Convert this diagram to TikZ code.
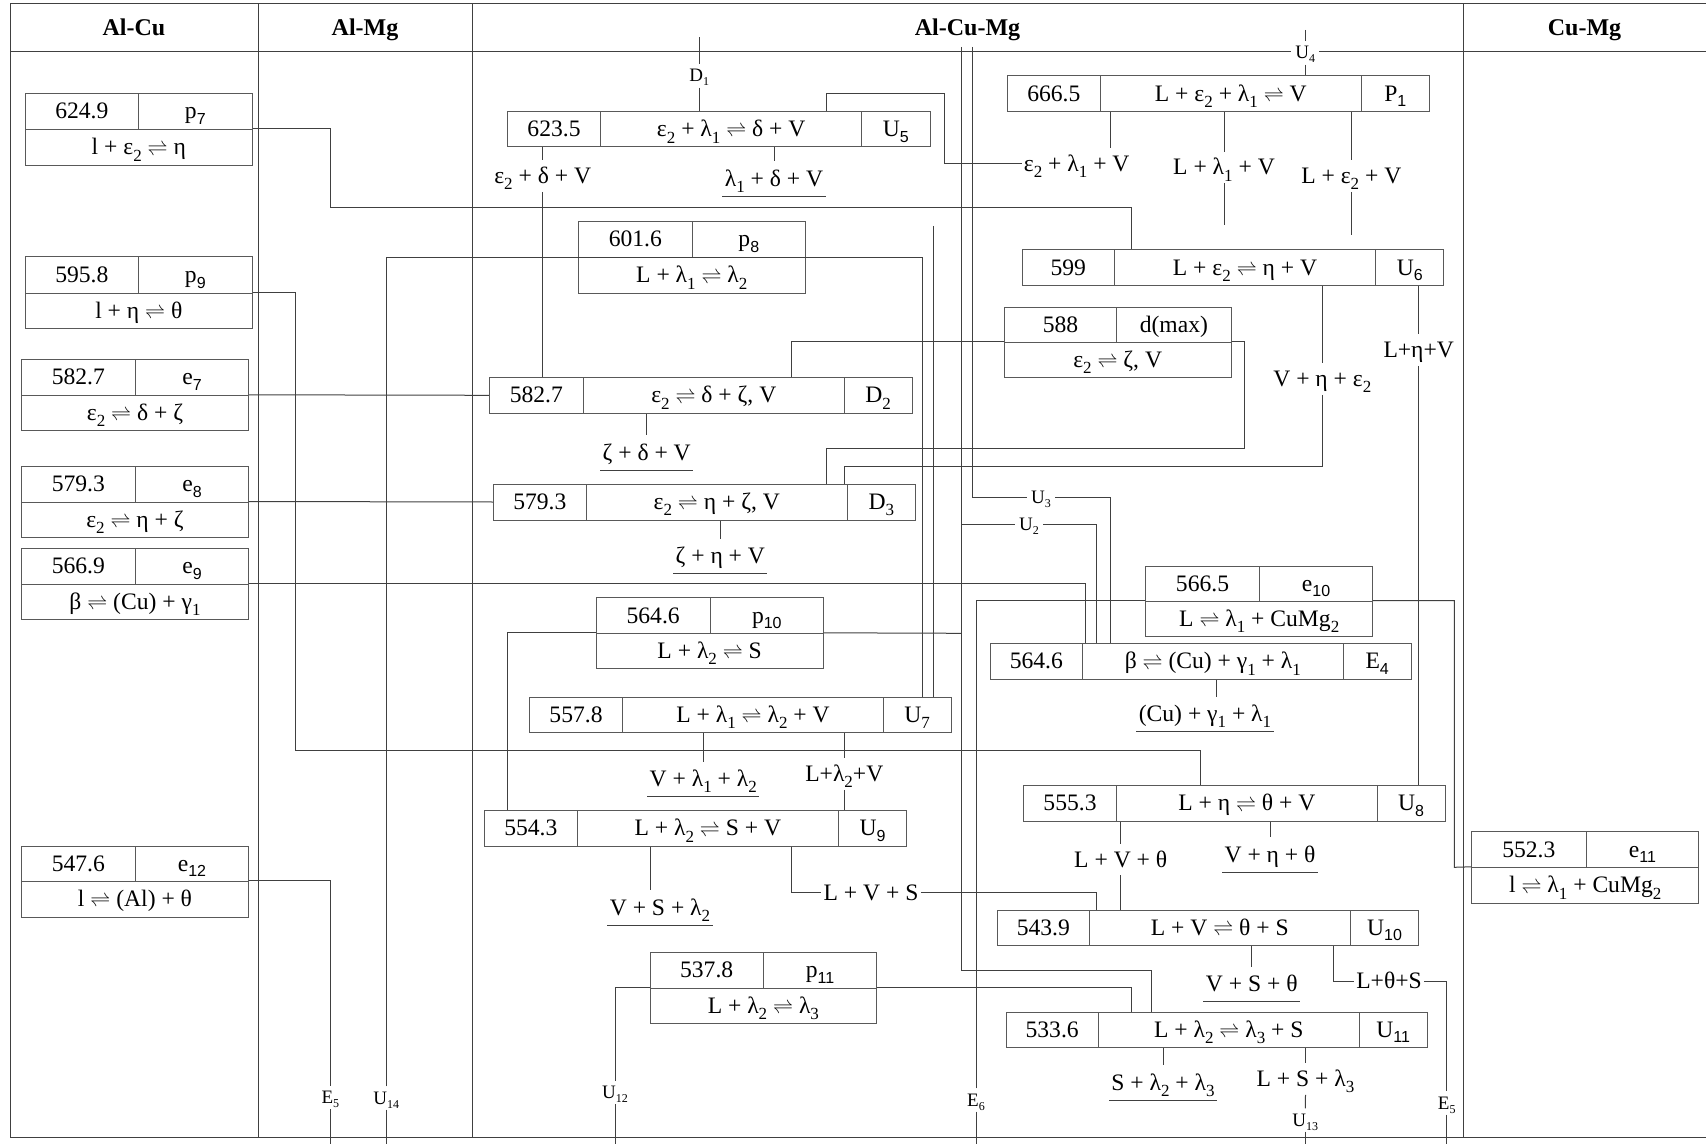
\documentclass[tikz,border=0pt]{standalone}
\usepackage{fontspec}
\setmainfont{Liberation Serif}
\setsansfont{Liberation Sans}
\newcommand\subr[1]{\raisebox{-3.2pt}{\fontsize{8.5pt}{8.5pt}\selectfont #1}}
\newcommand\subs[1]{\raisebox{-2.8pt}{\fontsize{8pt}{8pt}\selectfont\sffamily #1}}
\newcommand\subt[1]{\raisebox{-2pt}{\fontsize{6pt}{6pt}\selectfont #1}}
\newcommand\rl{\scalebox{0.85}{$\rightleftharpoons$}}
\newcommand\mycell[6]{\node[cellbox,minimum width={(#4-#2)*0.5pt},minimum height={(#5-#3)*0.5pt}] (#1) at ({(#2+#4)/2},{(#3+#5)/2}) {#6};}
\tikzset{
  ln/.style={draw=black!75,line width=0.5pt},
  cellbox/.style={draw=black!65,line width=0.5pt,inner sep=0pt,font=\fontsize{11.8pt}{12pt}\selectfont,text height=9pt,text depth=1.5pt},
  lab/.style={inner xsep=1pt,inner ysep=2.5pt,font=\fontsize{11.8pt}{12pt}\selectfont,text height=9pt,text depth=1.5pt},
  ul/.style={lab,inner ysep=3.3pt,append after command={(\tikzlastnode.south west) edge[ln] (\tikzlastnode.south east)}},
  sm/.style={inner sep=2pt,font=\fontsize{9.5pt}{10pt}\selectfont,text height=6.6pt,text depth=0.6pt},
  hdr/.style={font=\bfseries\fontsize{12pt}{13pt}\selectfont,text height=9pt,text depth=1.5pt}
}
\begin{document}
\begin{tikzpicture}[x=0.5pt,y=-0.5pt]
\useasboundingbox (0,0) rectangle (1706,1144);
% frame
\draw[ln] (10,1137) -- (10,4) -- (1706,4);
\draw[ln] (10,52) -- (1706,52);
\draw[ln] (10,1137) -- (1706,1137);
\draw[ln] (258,4) -- (258,1137);
\draw[ln] (472.3,4) -- (472.3,1137);
\draw[ln] (1463.3,4) -- (1463.3,1137);
% headers
\node[hdr] (hAC) at (134,28) {Al-Cu};
\node[hdr] (hAM) at (365,28) {Al-Mg};
\node[hdr] (hACM) at (967.5,28) {Al-Cu-Mg};
\node[hdr] (hCM) at (1584.5,28) {Cu-Mg};
% two-row boxes
\mycell{p7-t}{25.3}{93.7}{138.3}{129.3}{624.9}
\mycell{p7-l}{138.3}{93.7}{252.3}{129.3}{p\subs{7}}
\mycell{p7-r}{25.3}{129.3}{252.3}{165.3}{l + ε\subr{2} \rl{} η}
\mycell{p9-t}{25.3}{257}{138.3}{293.3}{595.8}
\mycell{p9-l}{138.3}{257}{252.3}{293.3}{p\subs{9}}
\mycell{p9-r}{25.3}{293.3}{252.3}{328.3}{l + η \rl{} θ}
\mycell{e7-t}{21.3}{359.3}{135.3}{395.3}{582.7}
\mycell{e7-l}{135.3}{359.3}{248.7}{395.3}{e\subs{7}}
\mycell{e7-r}{21.3}{395.3}{248.7}{430.7}{ε\subr{2} \rl{} δ + ζ}
\mycell{e8-t}{21.3}{466.7}{135.3}{502}{579.3}
\mycell{e8-l}{135.3}{466.7}{248.7}{502}{e\subs{8}}
\mycell{e8-r}{21.3}{502}{248.7}{537.3}{ε\subr{2} \rl{} η + ζ}
\mycell{e9-t}{21.3}{548.3}{135.3}{584}{566.9}
\mycell{e9-l}{135.3}{548.3}{248.7}{584}{e\subs{9}}
\mycell{e9-r}{21.3}{584}{248.7}{619.3}{β \rl{} (Cu) + γ\subr{1}}
\mycell{e12-t}{21.3}{846}{135.3}{881.3}{547.6}
\mycell{e12-l}{135.3}{846}{248.7}{881.3}{e\subs{12}}
\mycell{e12-r}{21.3}{881.3}{248.7}{917}{l \rl{} (Al) + θ}
\mycell{p8-t}{578.3}{221.7}{692.3}{257.3}{601.6}
\mycell{p8-l}{692.3}{221.7}{805.3}{257.3}{p\subs{8}}
\mycell{p8-r}{578.3}{257.3}{805.3}{293.3}{L + λ\subr{1} \rl{} λ\subr{2}}
\mycell{d588-t}{1004.3}{307.3}{1116.7}{342.3}{588}
\mycell{d588-l}{1116.7}{307.3}{1231}{342.3}{d(max)}
\mycell{d588-r}{1004.3}{342.3}{1231}{377.3}{ε\subr{2} \rl{} ζ, V}
\mycell{p10-t}{596}{597.7}{710.3}{633.3}{564.6}
\mycell{p10-l}{710.3}{597.7}{823.3}{633.3}{p\subs{10}}
\mycell{p10-r}{596}{633.3}{823.3}{668.3}{L + λ\subr{2} \rl{} S}
\mycell{e10-t}{1145.7}{566}{1259.3}{601}{566.5}
\mycell{e10-l}{1259.3}{566}{1372.7}{601}{e\subs{10}}
\mycell{e10-r}{1145.7}{601}{1372.7}{636.3}{L \rl{} λ\subr{1} + CuMg\subr{2}}
\mycell{p11-t}{650}{952.3}{763.3}{988.3}{537.8}
\mycell{p11-l}{763.3}{952.3}{876.7}{988.3}{p\subs{11}}
\mycell{p11-r}{650}{988.3}{876.7}{1023.3}{L + λ\subr{2} \rl{} λ\subr{3}}
\mycell{e11-t}{1471.7}{831.7}{1586}{867.3}{552.3}
\mycell{e11-l}{1586}{831.7}{1698.7}{867.3}{e\subs{11}}
\mycell{e11-r}{1471.7}{867.3}{1698.7}{903.3}{l \rl{} λ\subr{1} + CuMg\subr{2}}
% one-row boxes
\mycell{U5-t}{507.3}{111.7}{600.7}{146.7}{623.5}
\mycell{U5-r}{600.7}{111.7}{861.7}{146.7}{ε\subr{2} + λ\subr{1} \rl{} δ + V}
\mycell{U5-l}{861.7}{111.7}{930}{146.7}{U\subs{5}}
\mycell{P1-t}{1007.3}{76}{1100.3}{111.3}{666.5}
\mycell{P1-r}{1100.3}{76}{1361.3}{111.3}{L + ε\subr{2} + λ\subr{1} \rl{} V}
\mycell{P1-l}{1361.3}{76}{1429.3}{111.3}{P\subs{1}}
\mycell{U6-t}{1022.3}{250}{1114.3}{285.7}{599}
\mycell{U6-r}{1114.3}{250}{1375.7}{285.7}{L + ε\subr{2} \rl{} η + V}
\mycell{U6-l}{1375.7}{250}{1443.7}{285.7}{U\subs{6}}
\mycell{D2-t}{489.3}{377.3}{583.3}{413.3}{582.7}
\mycell{D2-r}{583.3}{377.3}{844.3}{413.3}{ε\subr{2} \rl{} δ + ζ, V}
\mycell{D2-l}{844.3}{377.3}{912}{413.3}{D\subr{2}}
\mycell{D3-t}{493.3}{484}{586.3}{520}{579.3}
\mycell{D3-r}{586.3}{484}{847.3}{520}{ε\subr{2} \rl{} η + ζ, V}
\mycell{D3-l}{847.3}{484}{915.3}{520}{D\subr{3}}
\mycell{E4-t}{990.3}{643.3}{1082.3}{679.3}{564.6}
\mycell{E4-r}{1082.3}{643.3}{1343.3}{679.3}{β \rl{} (Cu) + γ\subr{1} + λ\subr{1}}
\mycell{E4-l}{1343.3}{643.3}{1411}{679.3}{E\subs{4}}
\mycell{U7-t}{529.3}{697.7}{622.7}{732.3}{557.8}
\mycell{U7-r}{622.7}{697.7}{883.3}{732.3}{L + λ\subr{1} \rl{} λ\subr{2} + V}
\mycell{U7-l}{883.3}{697.7}{951}{732.3}{U\subr{7}}
\mycell{U9-t}{484.3}{810.7}{577.3}{846}{554.3}
\mycell{U9-r}{577.3}{810.7}{838.3}{846}{L + λ\subr{2} \rl{} S + V}
\mycell{U9-l}{838.3}{810.7}{906.7}{846}{U\subs{9}}
\mycell{U8-t}{1023.3}{785.7}{1116.7}{821}{555.3}
\mycell{U8-r}{1116.7}{785.7}{1377}{821}{L + η \rl{} θ + V}
\mycell{U8-l}{1377}{785.7}{1445.3}{821}{U\subs{8}}
\mycell{U10-t}{997.3}{910}{1089.3}{945}{543.9}
\mycell{U10-r}{1089.3}{910}{1350.3}{945}{L + V \rl{} θ + S}
\mycell{U10-l}{1350.3}{910}{1418.7}{945}{U\subs{10}}
\mycell{U11-t}{1006}{1012.3}{1098.3}{1047.3}{533.6}
\mycell{U11-r}{1098.3}{1012.3}{1359.3}{1047.3}{L + λ\subr{2} \rl{} λ\subr{3} + S}
\mycell{U11-l}{1359.3}{1012.3}{1427}{1047.3}{U\subs{11}}
% phase labels
\node[lab] (lEDV) at (542.7,176) {ε\subr{2} + δ + V};
\node[ul] (lLDV) at (774,179) {λ\subr{1} + δ + V};
\node[lab] (lELV) at (1076.7,164) {ε\subr{2} + λ\subr{1} + V};
\node[lab] (lLLV1) at (1224,167.5) {L + λ\subr{1} + V};
\node[lab] (lLEV) at (1351.3,176) {L + ε\subr{2} + V};
\node[lab] (lVHE) at (1322.3,379) {V + η + ε\subr{2}};
\node[lab] (lLHV) at (1418.7,350) {L+η+V};
\node[ul] (lZDV) at (646.7,452.5) {ζ + δ + V};
\node[ul] (lZHV) at (720.3,556) {ζ + η + V};
\node[ul] (lCGL) at (1205,714) {(Cu) + γ\subr{1} + λ\subr{1}};
\node[ul] (lVLL) at (703.3,779) {V + λ\subr{1} + λ\subr{2}};
\node[lab] (lLL2V) at (844.3,774) {L+λ\subr{2}+V};
\node[ul] (lVSL) at (660,907.5) {V + S + λ\subr{2}};
\node[lab] (lLVS) at (871,892.5) {L + V + S};
\node[lab] (lLVT) at (1120.7,859.5) {L + V + θ};
\node[ul] (lVHT) at (1270,854.5) {V + η + θ};
\node[ul] (lVST) at (1251.7,984) {V + S + θ};
\node[lab] (lLTS) at (1389,981) {L+θ+S};
\node[ul] (lSLL) at (1163,1082.5) {S + λ\subr{2} + λ\subr{3}};
\node[lab] (lLSL) at (1305.5,1079) {L + S + λ\subr{3}};
% small labels
\node[sm] (D1) at (699.3,76) {D\subt{1}};
\node[sm,fill=white] (U4) at (1305.3,53) {U\subt{4}};
\node[sm] (U3) at (1041,497) {U\subt{3}};
\node[sm] (U2) at (1029,524) {U\subt{2}};
\node[sm] (E5a) at (330.3,1097.5) {E\subt{5}};
\node[sm] (U14) at (386.3,1098) {U\subt{14}};
\node[sm] (U12) at (615,1092.5) {U\subt{12}};
\node[sm] (E6) at (976,1100) {E\subt{6}};
\node[sm] (E5b) at (1446.7,1103) {E\subt{5}};
\node[sm] (U13) at (1305.3,1120) {U\subt{13}};
% connectors
\draw[ln] (p7-r.north east) -| (330.3,207.7) -- (1131.7,207.7) -- (1131.7,0 |- U6-r.north);
\draw[ln] (p9-r.north east) -| (295.3,750) -- (1200,750) -- (1200,0 |- U8-r.north);
\draw[ln] (e7-r.north east) -- (D2-t.west);
\draw[ln] (e8-r.north east) -- (D3-t.west);
\draw[ln] (e9-r.north east) -| (1085.3,0 |- E4-r.north);
\draw[ln] (e12-r.north east) -| (E5a.north);
\draw[ln] (E5a.south) -- (E5a.south |- 0,1144);
\draw[ln] (U14.north) |- (922.7,257.3) -- (922.7,0 |- U7-l.north);
\draw[ln] (U14.south) -- (U14.south |- 0,1144);
\draw[ln] (933.3,226) -- (933.3,0 |- U7-l.north);
\draw[ln] (699.3,37.3) -- (D1.north);
\draw[ln] (D1.south) -- (699.3,0 |- U5-r.north);
\draw[ln] (1305.3,30) -- (U4.north);
\draw[ln] (U4.south) -- (1305.3,0 |- P1-r.north);
\draw[ln] (826.7,0 |- U5-r.north) |- (944,94) |- (lELV.west);
\draw[ln] (1110,0 |- P1-r.south) -- (1110,0 |- lELV.north);
\draw[ln] (lLLV1.north |- P1-r.south) -- (lLLV1.north);
\draw[ln] (lLLV1.south) -- (lLLV1.south |- 0,225);
\draw[ln] (lLEV.north |- P1-r.south) -- (lLEV.north);
\draw[ln] (lLEV.south) -- (lLEV.south |- 0,235.3);
\draw[ln] (lEDV.north |- U5-t.south) -- (lEDV.north);
\draw[ln] (lEDV.south) -- (lEDV.south |- D2-t.north);
\draw[ln] (lLDV.north |- U5-r.south) -- (lLDV.north);
\draw[ln] (791.7,0 |- D2-r.north) |- (d588-r.north west);
\draw[ln] (d588-r.north east) -| (1244.3,448.3) -| (826.7,0 |- D3-r.north);
\draw[ln] (lVHE.north |- U6-r.south) -- (lVHE.north);
\draw[ln] (lVHE.south) |- (844.3,466.7) -- (844.3,0 |- D3-r.north);
\draw[ln] (lLHV.north |- U6-l.south) -- (lLHV.north);
\draw[ln] (lLHV.south) -- (lLHV.south |- U8-l.north);
\draw[ln] (lZDV.north |- D2-r.south) -- (lZDV.north);
\draw[ln] (lZHV.north |- D3-r.south) -- (lZHV.north);
\draw[ln] (961,47) -- (961,970.7) -| (1151.7,0 |- U11-r.north);
\draw[ln] (961,0 |- U2.west) -- (U2.west);
\draw[ln] (U2.east) -| (1096.7,0 |- E4-r.north);
\draw[ln] (972.3,47) |- (U3.west);
\draw[ln] (U3.east) -| (1110,0 |- E4-r.north);
\draw[ln] (507.3,0 |- U9-t.north) |- (p10-r.north west);
\draw[ln] (p10-r.north east) -- (961,633.3);
\draw[ln] (E6.north) |- (e10-r.north west);
\draw[ln] (e10-r.north east) -| (1454.3,867.3) -- (e11-r.north west);
\draw[ln] (E6.south) -- (E6.south |- 0,1144);
\draw[ln] (1216.7,0 |- E4-r.south) -- (1216.7,0 |- lCGL.north);
\draw[ln] (lVLL.north |- U7-r.south) -- (lVLL.north);
\draw[ln] (lLL2V.north |- U7-r.south) -- (lLL2V.north);
\draw[ln] (lLL2V.south) -- (lLL2V.south |- U9-l.north);
\draw[ln] (650,0 |- U9-r.south) -- (650,0 |- lVSL.north);
\draw[ln] (791.7,0 |- U9-r.south) |- (lLVS.west);
\draw[ln] (lLVS.east) -| (1096.7,0 |- U10-r.north);
\draw[ln] (lLVT.north |- U8-r.south) -- (lLVT.north);
\draw[ln] (lLVT.south) -- (lLVT.south |- U10-r.north);
\draw[ln] (lVHT.north |- U8-r.south) -- (lVHT.north);
\draw[ln] (lVST.north |- U10-r.south) -- (lVST.north);
\draw[ln] (1333.7,0 |- U10-r.south) |- (lLTS.west);
\draw[ln] (lLTS.east) -| (E5b.north);
\draw[ln] (E5b.south) -- (E5b.south |- 0,1144);
\draw[ln] (U12.north) |- (p11-r.north west);
\draw[ln] (p11-r.north east) -| (1131.7,0 |- U11-r.north);
\draw[ln] (U12.south) -- (U12.south |- 0,1144);
\draw[ln] (lSLL.north |- U11-r.south) -- (lSLL.north);
\draw[ln] (lLSL.north |- U11-r.south) -- (lLSL.north);
\draw[ln] (lLSL.south) -- (U13.north);
\draw[ln] (U13.south) -- (U13.south |- 0,1144);
\end{tikzpicture}
\end{document}
